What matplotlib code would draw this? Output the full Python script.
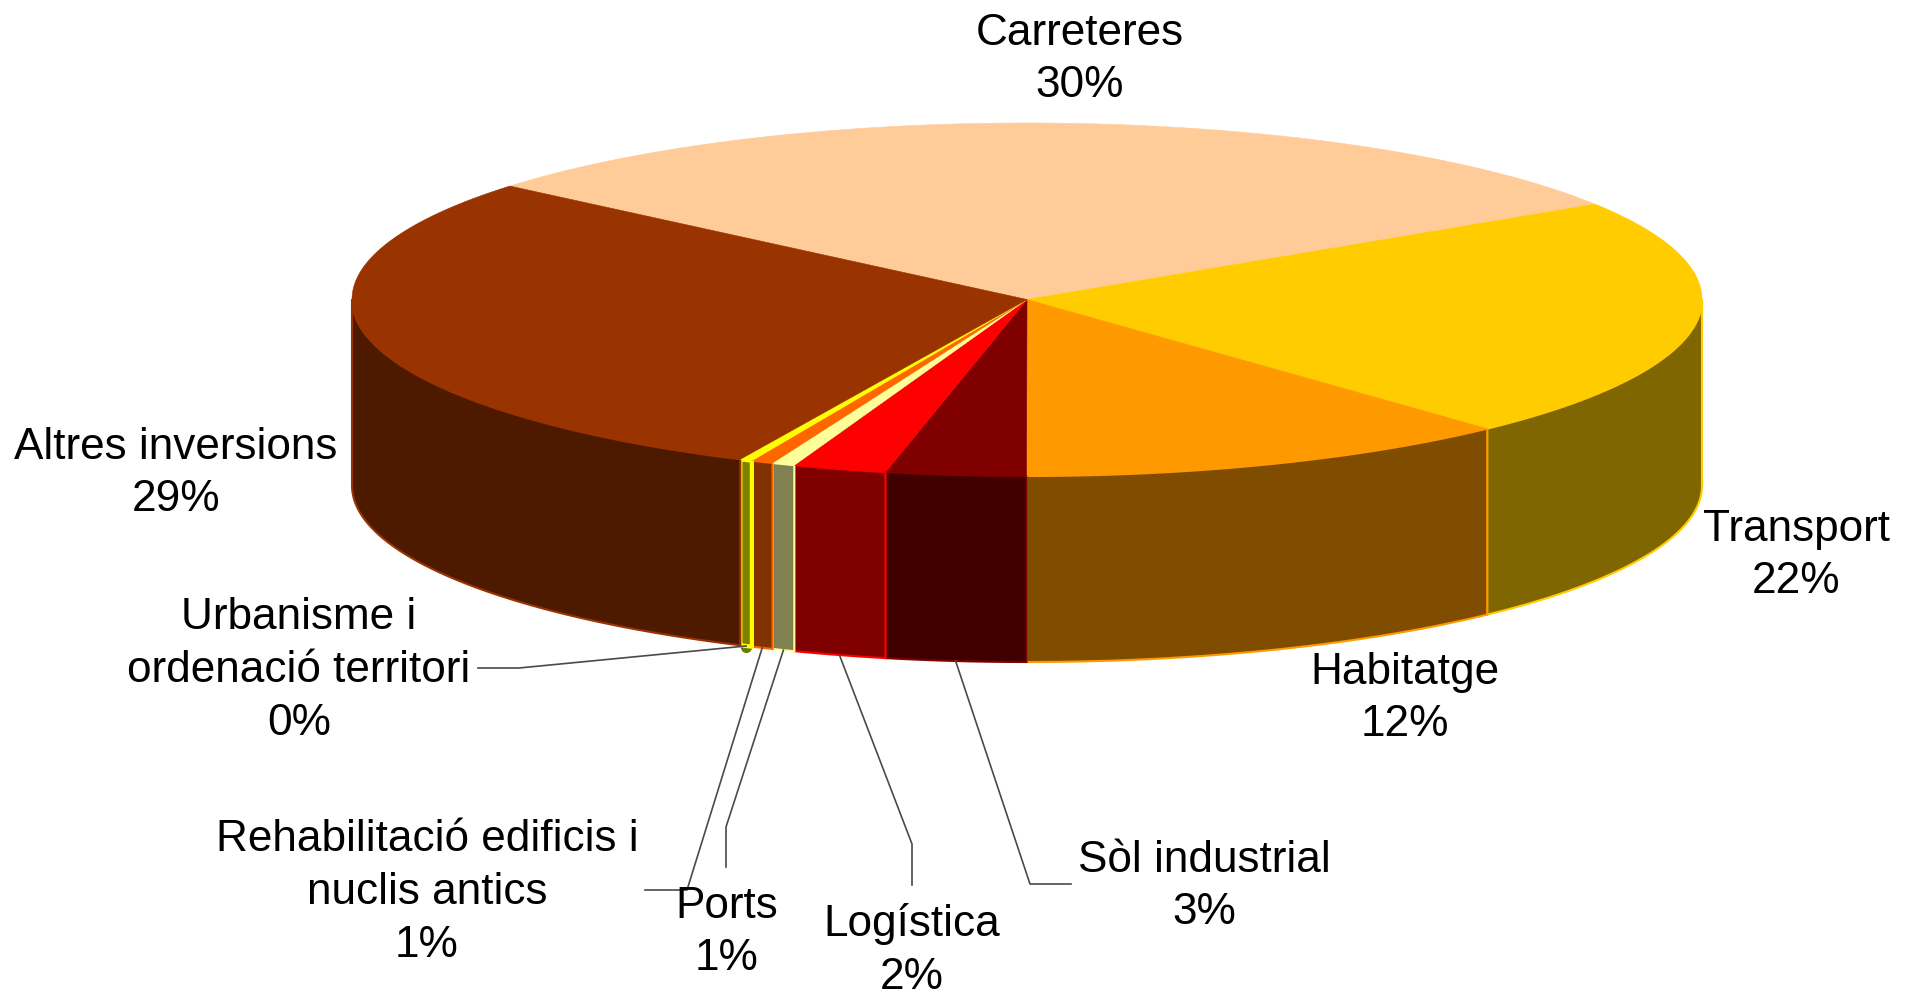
import numpy as np
import matplotlib
matplotlib.use('Agg')
import matplotlib.pyplot as plt
from matplotlib.patches import Polygon

plt.rcParams['font.family'] = ['Liberation Sans', 'DejaVu Sans']

categories = ['Carreteres', 'Transport', 'Habitatge', 'Sòl industrial', 'Logística', 'Ports',
              'Rehabilitació edificis i\nnuclis antics', 'Urbanisme i\nordenació territori',
              'Altres inversions']
shares = [29.8, 22.15, 11.95, 3.35, 2.24, 0.55, 0.53, 0.30, 29.13]
top_colors = ['#FFCC99', '#FFCC00', '#FF9900', '#800000', '#FF0000', '#FFFF99', '#FF6600', '#FFFF00', '#993300']
side_colors = ['#806650', '#806600', '#804D00', '#400000', '#800000', '#808050', '#803300', '#808000', '#4D1A00']

start_angle = 140
cx, cy = 1027, 299.5
rx, ry = 675, 176.5
depth = 186
font_size = 31.8

# label centres and leader line elbows, in pixels
label_pos = [(1080, 56), (1796, 552), (1405, 695), (1204, 883), (912, 947), (727, 929),
             (427, 889), (299, 667), (176, 470)]
leaders = {3: [(1030, 884), (1071, 884)],
           4: [(912, 844), (912, 885)],
           5: [(726, 827), (726, 867)],
           6: [(687, 890), (645, 890)],
           7: [(519, 668), (478, 668)]}


def rim(t, drop=0):
    t = np.radians(t)
    return np.column_stack([cx + rx * np.cos(t), cy - ry * np.sin(t) + drop])


fig = plt.figure(figsize=(19.14, 9.93), dpi=100)
ax = fig.add_axes([0, 0, 1, 1])
ax.set_xlim(0, 1914)
ax.set_ylim(993, 0)
ax.axis('off')

ends = start_angle - np.cumsum(shares) * 3.6
starts = np.r_[start_angle, ends[:-1]]

# small blob at the foot of the narrowest slice
mid = (starts[7] + ends[7]) / 2
foot = rim(np.array([mid]), depth + 1)[0]
ax.plot(foot[0], foot[1], 'o', color='#6B7A00', markersize=7, zorder=1.5)

# side walls, only the front half of the disc shows
for i in range(len(shares)):
    a2 = min(starts[i], 0)
    b2 = max(ends[i], -180)
    if a2 <= b2:
        continue
    t = np.linspace(a2, b2, 80)
    pts = np.vstack([rim(t), rim(t[::-1], depth)])
    lw = 3 if i == 7 else 1.5
    ax.add_patch(Polygon(pts, closed=True, facecolor=side_colors[i], edgecolor=top_colors[i],
                         linewidth=lw, zorder=2 + i * 0.01))

# top faces
for i in range(len(shares)):
    t = np.linspace(starts[i], ends[i], 200)
    pts = np.vstack([[cx, cy], rim(t)])
    ax.add_patch(Polygon(pts, closed=True, facecolor=top_colors[i], edgecolor=top_colors[i],
                         linewidth=0.4, zorder=3))

# leader lines start at the middle of each slice's foot
for i, elbow in leaders.items():
    mid = (starts[i] + ends[i]) / 2
    foot = rim(np.array([mid]), depth)[0]
    xs = [foot[0]] + [p[0] for p in elbow]
    ys = [foot[1]] + [p[1] for p in elbow]
    ax.plot(xs, ys, color='#4A4A4A', linewidth=1.2, zorder=4)

for name, share, (x, y) in zip(categories, shares, label_pos):
    ax.text(x, y + 3.5, '%s\n%.0f%%' % (name, share), ha='center', va='center', fontsize=font_size,
            color='black', linespacing=1.36, zorder=5)

fig.savefig('out.png', dpi=100, facecolor='white')
